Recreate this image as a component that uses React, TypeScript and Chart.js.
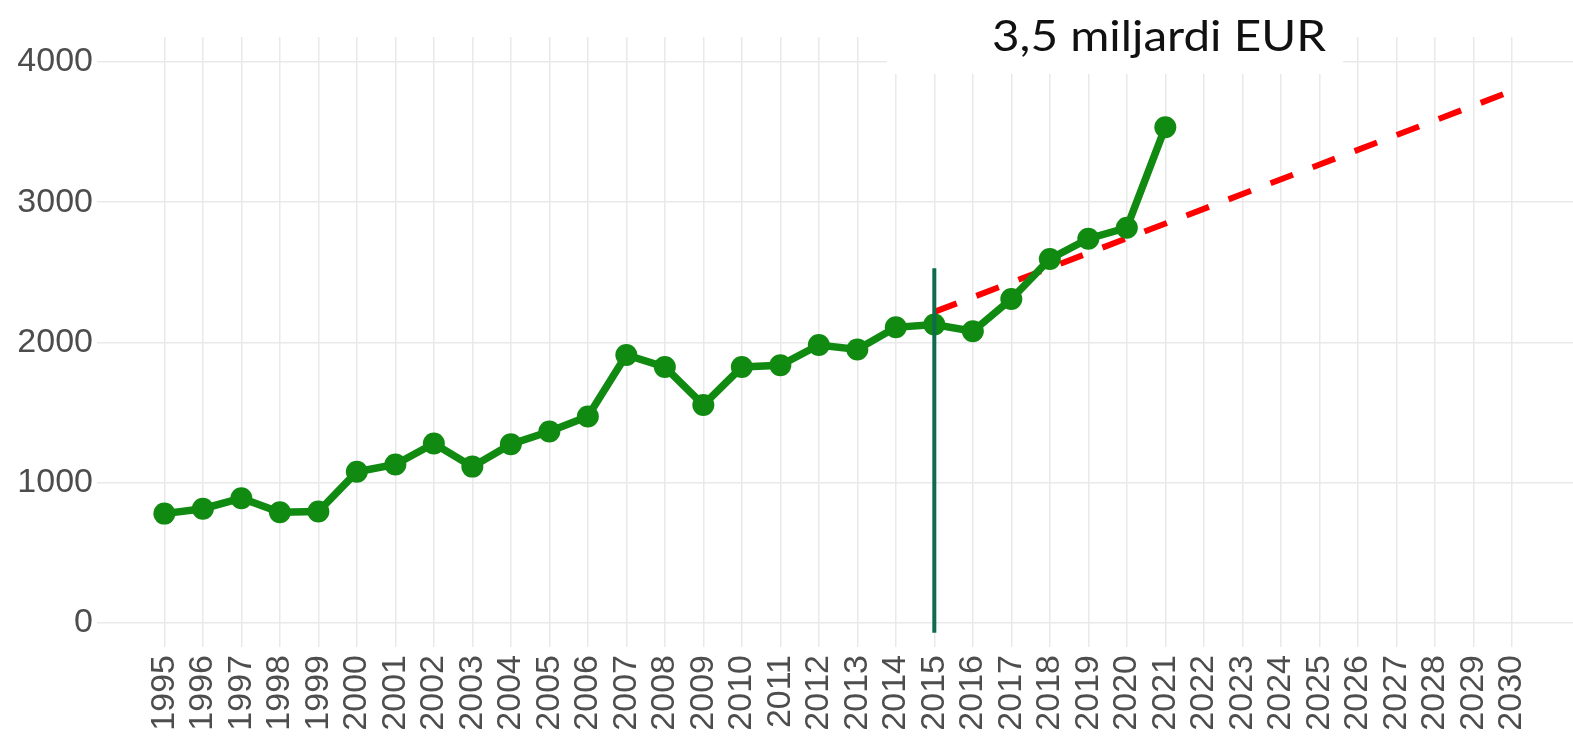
import React, { useEffect, useRef } from "react";
import { Chart, registerables } from "chart.js";

Chart.register(...registerables);

const years = [1995, 1996, 1997, 1998, 1999, 2000, 2001, 2002, 2003, 2004, 2005, 2006, 2007, 2008, 2009, 2010, 2011, 2012, 2013, 2014, 2015, 2016, 2017, 2018, 2019, 2020, 2021];
const values = [780, 815, 890, 790, 795, 1078, 1130, 1280, 1115, 1275, 1365, 1472, 1911, 1825, 1555, 1825, 1838, 1982, 1950, 2108, 2128, 2080, 2310, 2595, 2740, 2818, 3535];

const trendYears = [2015, 2030];
const trendValues = [2218, 3793];

const markerYears = [2015, 2015];
const markerValues = [-70, 2530];

const xTickYears = Array.from({ length: 36 }, (_, i) => 1995 + i);
const yTickValues = [0, 1000, 2000, 3000, 4000];

const titleText = "3,5 miljardi EUR";

const toXY = (xs: number[], ys: number[]) => xs.map((x, i) => ({ x, y: ys[i] }));

const titlePlugin = {
  id: "titleBox",
  afterDraw(chart: any) {
    const ctx = chart.ctx;
    ctx.save();
    ctx.fillStyle = "#ffffff";
    ctx.fillRect(887, 0, 456, 74);
    ctx.fillStyle = "#111111";
    ctx.font = "43px Lato";
    ctx.textAlign = "left";
    ctx.textBaseline = "alphabetic";
    const w = ctx.measureText(titleText).width;
    const sx = 334 / w;
    ctx.translate(992, 51);
    ctx.scale(sx, 1);
    ctx.fillText(titleText, 0, 0);
    ctx.restore();
  },
};

export default function App() {
  const ref = useRef<HTMLCanvasElement | null>(null);

  useEffect(() => {
    if (!ref.current) return;
    const chart = new Chart(ref.current, {
      type: "line",
      data: {
        datasets: [
          {
            data: toXY(markerYears, markerValues),
            borderColor: "#0e6b4f",
            borderWidth: 4,
            pointRadius: 0,
            order: 0,
          },
          {
            data: toXY(years, values),
            borderColor: "#108a10",
            backgroundColor: "#108a10",
            borderWidth: 7.5,
            pointRadius: 11,
            pointBorderWidth: 0,
            pointBackgroundColor: "#108a10",
            tension: 0,
            order: 1,
          },
          {
            data: toXY(trendYears, trendValues),
            borderColor: "#ff0000",
            borderWidth: 6,
            borderDash: [24, 21],
            pointRadius: 0,
            order: 2,
          },
        ],
      },
      options: {
        responsive: false,
        animation: false,
        events: [],
        layout: { autoPadding: false, padding: { top: 37, left: 0, right: 0, bottom: 0 } },
        plugins: { legend: { display: false }, tooltip: { enabled: false }, title: { display: false } },
        scales: {
          x: {
            type: "linear",
            min: 1993.25,
            max: 2031.59,
            border: { display: false },
            grid: { color: "#e9e9e9", lineWidth: 1.5, drawTicks: false },
            afterBuildTicks: (scale: any) => {
              scale.ticks = xTickYears.map((v) => ({ value: v }));
            },
            afterFit: (scale: any) => {
              scale.height = 91;
              scale.paddingLeft = 0;
              scale.paddingRight = 0;
            },
            ticks: {
              autoSkip: false,
              minRotation: 90,
              maxRotation: 90,
              padding: 8,
              color: "#4d4d4d",
              font: { family: "Liberation Sans", size: 34 },
              callback: (v: any) => String(v),
            },
          },
          y: {
            type: "linear",
            min: -171,
            max: 4178,
            border: { display: false },
            grid: { color: "#e9e9e9", lineWidth: 1.5, drawTicks: false },
            afterBuildTicks: (scale: any) => {
              scale.ticks = yTickValues.map((v) => ({ value: v }));
            },
            afterFit: (scale: any) => {
              scale.width = 97;
              scale.paddingTop = 0;
              scale.paddingBottom = 0;
            },
            ticks: {
              padding: 4,
              color: "#4d4d4d",
              font: { family: "Liberation Sans", size: 34 },
              callback: (v: any) => String(v),
            },
          },
        },
      },
      plugins: [titlePlugin],
    });
    return () => chart.destroy();
  }, []);

  return (
    <div style={{ position: "absolute", left: 0, top: 0, width: 1573, height: 738, background: "#fff" }}>
      <canvas ref={ref} width={1573} height={738} style={{ display: "block" }} />
    </div>
  );
}
